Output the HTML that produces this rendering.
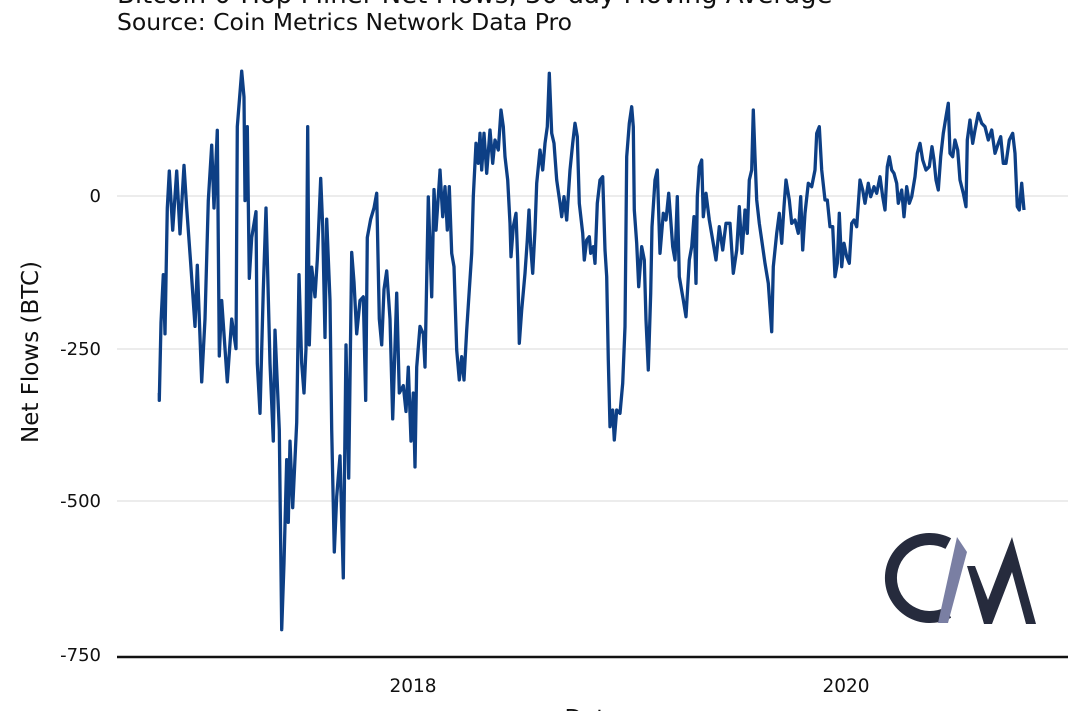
<!DOCTYPE html>
<html><head><meta charset="utf-8"><style>
html,body{margin:0;padding:0;background:#fff;width:1080px;height:711px;overflow:hidden}
svg{display:block}
text{font-family:"DejaVu Sans","Liberation Sans",sans-serif}
</style></head><body>
<svg id="s" width="1080" height="711" viewBox="0 0 1080 711" xmlns="http://www.w3.org/2000/svg">
<text x="117" y="3" font-size="26" fill="#111">Bitcoin 0-Hop Miner Net Flows, 30-day Moving Average</text>
<text x="117" y="30" font-size="23.5" fill="#111">Source: Coin Metrics Network Data Pro</text>
<g stroke="#e6e6e6" stroke-width="1.5">
<line x1="117" y1="196" x2="1068" y2="196"/>
<line x1="117" y1="349" x2="1068" y2="349"/>
<line x1="117" y1="501" x2="1068" y2="501"/>
</g>
<line x1="117" y1="657" x2="1068" y2="657" stroke="#111" stroke-width="2.5"/>
<g font-size="18" fill="#111" text-anchor="end">
<text x="101" y="202">0</text>
<text x="101" y="355">-250</text>
<text x="101" y="507">-500</text>
<text x="101" y="661">-750</text>
</g>
<g font-size="18.5" fill="#111" text-anchor="middle">
<text x="413" y="692">2018</text>
<text x="846" y="692">2020</text>
<text x="592" y="726" font-size="23">Date</text>
</g>
<text transform="translate(38,352) rotate(-90)" font-size="23" fill="#111" text-anchor="middle">Net Flows (BTC)</text>
<path id="p" fill="none" stroke="#0d3f85" stroke-width="3.3" stroke-linejoin="round"/>
<path d="M951.1,538.3 A45,45 0 1 0 951.1,617.7 L945.5,607.1 A33,33 0 1 1 945.5,548.9 Z" fill="#262b3d"/>
<polygon points="957,537 967,552 948,623 938,623" fill="#7a7fa3"/>
<polygon points="967,566 975,566 988,600 1012,537 1036,624 1026,624 1012,572 992,624 984,624" fill="#262b3d"/>
</svg>
<script>
var s1=[[28,900],[28,920],[33,710],[40,580],[45,740],[52,400],[58,300],[68,460],[80,300],[90,470],[102,285],[110,400],[122,550],[135,720],[142,555],[155,870],[165,700],[175,380],[185,230],[192,400],[202,190],[208,800],[215,650],[232,870],[245,700],[258,780],[262,180],[275,30],[282,100],[285,380],[292,180],[298,590],[305,480],[318,410],[322,820],[330,955],[340,620],[348,400],[360,820],[370,1030],[375,730],[388,1000],[395,1540],[402,1360],[410,1080],[415,1250],[420,1030],[428,1210],[440,980],[447,580],[455,820],[462,900],[468,780],[473,180],[478,770],[485,560],[495,640],[502,540],[512,320],[518,450],[525,750],[530,430],[540,650],[545,1000],[553,1330],[560,1180],[570,1070],[580,1400],[588,770],[596,1130],[605,520],[612,600],[620,740],[630,650],[640,640],[647,920],[652,480],[662,430],[672,400],[680,360],[688,700],[695,770],[702,620],[710,570],[720,700],[728,970],[740,630],[748,900],[760,880],[768,950],[775,830],[783,1030],[790,900],[795,1100],[800,830],[810,720],[820,740],[825,830],[835,370],[845,640],[852,350],[858,460],[870,300]];
var s2=[[0,330],[8,470],[15,380],[22,510],[28,380],[35,580],[42,620],[50,870],[58,960],[65,890],[72,960],[80,810],[88,690],[95,580],[100,410],[108,250],[115,310],[120,220],[125,330],[132,220],[140,340],[150,210],[158,310],[165,240],[175,270],[183,150],[190,200],[195,290],[203,360],[210,490],[213,590],[220,500],[228,460],[233,600],[238,850],[245,750],[255,640],[262,540],[267,450],[272,560],[278,640],[285,510],[290,370],[300,270],[308,330],[315,250],[322,200],[328,40],[335,220],[342,250],[350,360],[360,430],[365,470],[372,410],[380,480],[390,330],[398,250],[405,190],[412,230],[418,430],[428,520],[433,600],[440,540],[448,530],[452,580],[460,560],[465,610],[472,430],[480,360],[488,350],[495,570],[500,650],[505,900],[510,1100],[518,1050],[523,1140],[530,1050],[540,1060],[548,970],[555,800],[560,290],[568,190],[575,140],[580,200],[583,450],[590,550],[596,680],[605,560],[613,600],[618,780],[625,930],[632,700],[636,500],[645,360],[652,330],[660,580],[670,460],[678,480],[686,400],[690,450],[698,560],[705,600],[712,410],[718,650],[730,720],[738,770],[748,600],[755,560],[762,470],[768,670],[772,410],[778,320],[785,300],[790,470],[798,400],[808,480],[818,540],[828,600],[838,500],[848,570],[858,490]];
var s3=[[0,400],[10,550],[20,480],[28,350],[36,490],[45,360],[52,430],[58,270],[65,240],[70,60],[75,200],[80,330],[88,400],[95,450],[105,520],[115,580],[125,725],[130,530],[140,430],[148,370],[155,460],[162,350],[168,270],[178,330],[185,400],[195,390],[205,430],[212,320],[218,480],[225,370],[235,280],[245,290],[255,240],[260,130],[268,110],[275,240],[285,330],[292,330],[300,410],[308,410],[315,560],[322,520],[328,370],[335,530],[342,460],[350,500],[358,520],[365,400],[372,390],[380,410],[390,270],[398,300],[405,340],[415,280],[422,320],[432,290],[440,310],[450,260],[458,320],[465,360],[472,230],[478,200],[485,240],[492,250],[500,280],[505,340],[515,300],[522,380],[530,290],[538,340],[545,320],[555,260],[562,190],[570,160],[578,210],[588,240],[598,230],[606,170],[612,210],[618,270],[625,300],[632,200],[640,130],[648,80],[655,40],[660,190],[668,200],[675,150],[683,180],[690,270],[700,310],[708,350],[712,150],[720,90],[728,160],[735,120],[745,70],[755,100],[765,110],[775,150],[785,120],[795,190],[805,160],[812,140],[820,220],[828,220],[838,150],[848,130],[855,190],[862,350],[868,360],[875,280],[882,360]];
var pts=[];
s1.forEach(function(p){pts.push([150+p[0]/3,60+p[1]/2.703]);});
s2.forEach(function(p){pts.push([440+p[0]/3,60+p[1]/3]);});
s3.forEach(function(p){pts.push([730+p[0]/3,90+p[1]/3]);});
var d="M"+pts.map(function(p){return p[0].toFixed(1)+","+p[1].toFixed(1);}).join(" L");
document.getElementById("p").setAttribute("d",d);
</script>
</body></html>
